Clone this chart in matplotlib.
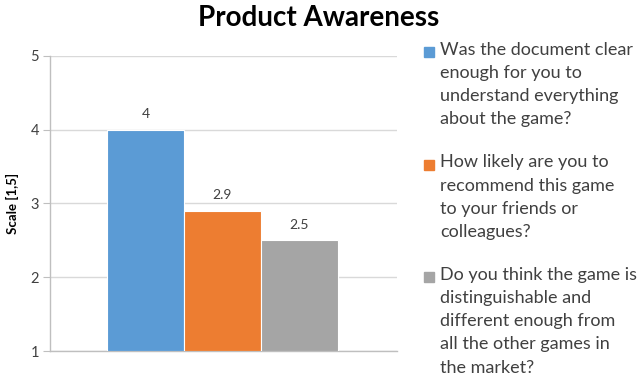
import matplotlib.pyplot as plt
from matplotlib.patches import Rectangle

plt.rcParams['font.family'] = ['Lato', 'DejaVu Sans']

questions = [
    "Was the document clear\nenough for you to\nunderstand everything\nabout the game?",
    "How likely are you to\nrecommend this game\nto your friends or\ncolleagues?",
    "Do you think the game is\ndistinguishable and\ndifferent enough from\nall the other games in\nthe market?",
]
scores = [4, 2.9, 2.5]
score_labels = ["4", "2.9", "2.5"]
colors = ['#5B9BD5', '#ED7D31', '#A5A5A5']

fig = plt.figure(figsize=(6.38, 3.85), dpi=100)
ax = fig.add_axes([0.0784, 0.088, 0.544, 0.767])

x = [0, 1, 2]
bars = ax.bar(x, [s - 1 for s in scores], bottom=1, width=1.0, color=colors,
              edgecolor='white', linewidth=0.8, zorder=3)
for b, lab in zip(bars, score_labels):
    ax.annotate(lab, (b.get_x() + b.get_width() / 2, b.get_y() + b.get_height()),
                xytext=(0, 7), textcoords='offset points', ha='center', va='bottom',
                fontsize=10, color='#404040')

ax.set_xlim(-1.24, 3.27)
ax.set_ylim(1, 5)
ax.set_yticks([1, 2, 3, 4, 5])
ax.set_xticks([])
ax.grid(axis='y', color='#D9D9D9', linewidth=1, zorder=0)
for s in ['top', 'right']:
    ax.spines[s].set_visible(False)
for s in ['left', 'bottom']:
    ax.spines[s].set_color('#BFBFBF')
    ax.spines[s].set_linewidth(1)
ax.tick_params(axis='y', length=5, color='#BFBFBF', labelsize=10.5, labelcolor='#404040', pad=3)
ax.set_ylabel('Scale [1,5]', fontsize=9.5, fontweight='bold', labelpad=8)

fig.text(0.5, 1 - 18 / 385, 'Product Awareness', ha='center', va='center',
         fontsize=20, fontweight='bold', color='black')

# legend drawn by hand so the squares sit on the first line
top = 1 - 52 / 385
for i, (q, c) in enumerate(zip(questions, colors)):
    y = top - i * (112.5 / 385)
    fig.patches.append(Rectangle((424 / 638, y - 5 / 385), 10 / 638, 10 / 385,
                                 transform=fig.transFigure, color=c))
    fig.text(440 / 638, y + 10 / 385, q, ha='left', va='top', fontsize=13,
             color='#404040', linespacing=1.55)

fig.savefig('out.png', dpi=100)
